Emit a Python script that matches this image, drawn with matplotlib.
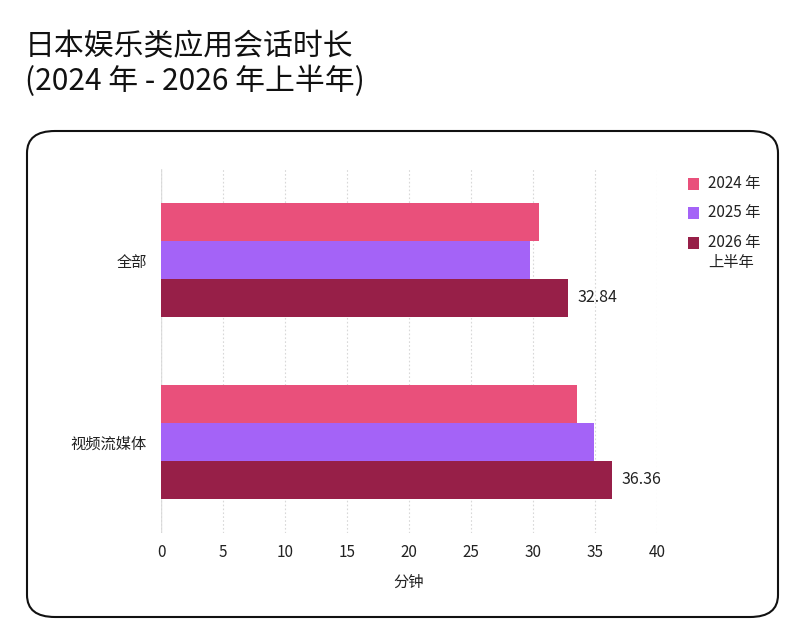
import matplotlib
matplotlib.use("Agg")
import matplotlib.pyplot as plt
import numpy as np
from matplotlib.patches import FancyBboxPatch, Rectangle

plt.rcParams['font.family'] = ['Noto Sans CJK SC', 'DejaVu Sans']

# 数据
categories = ['全部', '视频流媒体']
series_names = ['2024 年', '2025 年', '2026 年\n上半年']
values_2024 = [30.45, 33.57]
values_2025 = [29.73, 34.90]
values_2026 = [32.84, 36.36]
colors = ['#E9507B', '#A463F7', '#971F48']
x_ticks = [0, 5, 10, 15, 20, 25, 30, 35, 40]

W, H = 800, 629
fig = plt.figure(figsize=(W / 100, H / 100), dpi=100)

# 圆角边框
box = FancyBboxPatch((27 / W, 12 / H), 751 / W, 486 / H,
                     boxstyle="round,pad=0,rounding_size=0.035",
                     transform=fig.transFigure, fill=False,
                     edgecolor='#111111', linewidth=1.5)
fig.patches.append(box)

fig.text(25 / W, 1 - 47 / H, '日本娱乐类应用会话时长', fontsize=21.5,
         fontweight='medium', va='center', ha='left', color='#111111')
fig.text(25 / W, 1 - 81 / H, '(2024 年 - 2026 年上半年)', fontsize=21.5,
         fontweight='medium', va='center', ha='left', color='#111111')

ax = fig.add_axes([161 / W, 1 - 533 / H, 496 / W, 364 / H])

y = np.arange(len(categories))
h = 0.208
all_series = [values_2024, values_2025, values_2026]
for k, vals in enumerate(all_series):
    ax.barh(y + (k - 1) * h, vals, height=h, color=colors[k], zorder=3)

for i, v in enumerate(values_2026):
    ax.text(v + 0.75, y[i] + h, f'{v:.2f}', va='center', ha='left',
            fontsize=11.5, color='#222222')

ax.set_xlim(0, 40)
ax.set_ylim(-0.5, 1.5)
ax.invert_yaxis()
ax.set_xticks(x_ticks)
ax.set_yticks(y)
ax.set_yticklabels(categories, fontsize=11, color='#222222')
ax.tick_params(axis='x', labelsize=11, colors='#222222', length=0, pad=8)
ax.tick_params(axis='y', length=0, pad=10)
ax.grid(axis='x', color='#d8d8d8', linestyle=(0, (1.5, 2)), linewidth=0.8, zorder=0)
ax.axvline(0, color='#e0e0e0', linewidth=1, zorder=1)
for s in ax.spines.values():
    s.set_visible(False)
ax.set_xlabel('分钟', fontsize=11, color='#222222', labelpad=9)

# 图例（手动绘制，色块与首行文字对齐）
leg_y = [184, 213, 243]
for name, c, yy in zip(series_names, colors, leg_y):
    fig.patches.append(Rectangle((688 / W, 1 - (yy + 5.5) / H), 11 / W, 11 / H,
                                 transform=fig.transFigure, facecolor=c,
                                 edgecolor='none'))
    fig.text(708 / W, 1 - (yy - 9) / H, name, fontsize=11, va='top', ha='left',
             color='#222222', linespacing=1.25)

fig.savefig('out.png', dpi=100)
